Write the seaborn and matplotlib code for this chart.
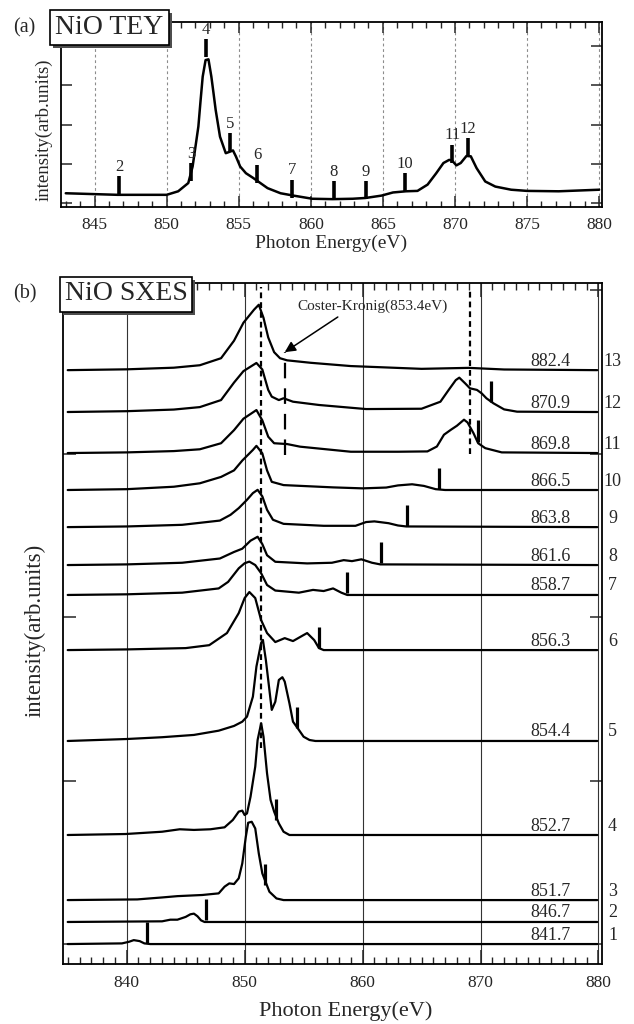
import numpy as np
import pandas as pd
import matplotlib
matplotlib.use('Agg')
import matplotlib.pyplot as plt
import matplotlib.patheffects as pe
from matplotlib.ticker import MultipleLocator
import seaborn as sns

sns.set_style('ticks')
plt.rcParams['font.family'] = ['Liberation Serif', 'DejaVu Serif']

# ---------------- (a) NiO TEY ----------------
tey_energy = [843.0, 846.6, 850.0, 850.8, 851.5, 851.8, 852.2, 852.35, 852.5, 852.7,
              852.9, 853.1, 853.25, 853.4, 853.7, 854.1, 854.4, 854.6, 854.8, 855.1,
              855.5, 856.0, 856.5, 857.0, 857.9, 858.8, 860.1, 861.5, 862.9, 863.8,
              864.9, 865.7, 866.6, 867.4, 868.1, 868.7, 869.2, 869.6, 869.8, 870.1,
              870.4, 870.8, 871.1, 871.5, 872.1, 872.8, 873.9, 875.0, 877.2, 880.0]
tey_intensity = [0.25, 0.21, 0.21, 0.30, 0.51, 0.93, 1.95, 2.60, 3.22, 3.64,
                 3.66, 3.22, 2.80, 2.37, 1.69, 1.27, 1.31, 1.34, 1.19, 0.93,
                 0.76, 0.64, 0.51, 0.38, 0.25, 0.19, 0.11, 0.10, 0.11, 0.13,
                 0.19, 0.27, 0.30, 0.31, 0.47, 0.76, 1.02, 1.10, 1.08, 0.96,
                 1.02, 1.20, 1.19, 0.89, 0.55, 0.42, 0.34, 0.31, 0.30, 0.34]
tey_mark_energy = [846.7, 851.7, 852.7, 854.4, 856.3, 858.7, 861.6, 863.8, 866.5, 869.8, 870.9]
tey_mark_label = ['2', '3', '4', '5', '6', '7', '8', '9', '10', '11', '12']
tey_mark_base = [0.21, 0.55, 3.71, 1.31, 0.51, 0.13, 0.08, 0.10, 0.30, 1.02, 1.19]

# ---------------- (b) NiO SXES ----------------
exc_label = ['841.7', '846.7', '851.7', '852.7', '854.4', '856.3', '858.7',
             '861.6', '863.8', '866.5', '869.8', '870.9', '882.4']
exc_energy = [841.7, 846.7, 851.7, 852.7, 854.4, 856.3, 858.7,
              861.6, 863.8, 866.5, 869.8, 870.9, 882.4]
sxes_offset = [0.0, 0.135, 0.269, 0.667, 1.242, 1.798, 2.135,
               2.318, 2.55, 2.777, 3.003, 3.254, 3.51]
sxes_bar_base = [0.004, 0.01, 0.092, 0.092, 0.08, 0.012, 0.01,
                 0.01, 0.004, 0.004, 0.07, 0.06, None]
ck_energy = 853.4

sx01_e = [835.0, 839.6, 840.2, 840.6, 841.1, 841.5, 842.0, 879.9]
sx01_h = [0.0, 0.004, 0.014, 0.024, 0.018, 0.004, 0.0, 0.0]

sx02_e = [835.0, 843.0, 843.7, 844.3, 845.0, 845.4, 845.7, 846.0, 846.3, 846.6, 879.9]
sx02_h = [0.0, 0.004, 0.014, 0.014, 0.031, 0.047, 0.051, 0.035, 0.01, 0.0, 0.0]

sx03_e = [835.0, 840.9, 843.0, 844.3, 846.4, 847.8, 848.3, 848.7, 849.1, 849.5,
          849.8, 850.1, 850.3, 850.6, 850.9, 851.2, 851.5, 852.1, 852.7, 853.3, 879.9]
sx03_h = [0.0, 0.004, 0.016, 0.024, 0.031, 0.041, 0.082, 0.102, 0.098, 0.133,
          0.224, 0.387, 0.473, 0.479, 0.438, 0.285, 0.163, 0.051, 0.01, 0.0, 0.0]

sx04_e = [835.0, 839.9, 843.0, 844.5, 845.7, 847.1, 848.3, 849.0, 849.5, 849.8,
          850.0, 850.2, 850.5, 850.9, 851.1, 851.4, 851.6, 851.9, 852.2, 852.5,
          852.9, 853.3, 853.8, 879.9]
sx04_h = [0.0, 0.006, 0.02, 0.035, 0.031, 0.035, 0.047, 0.092, 0.143, 0.149,
          0.122, 0.132, 0.234, 0.418, 0.581, 0.683, 0.601, 0.377, 0.214, 0.143,
          0.071, 0.02, 0.0, 0.0]

sx05_e = [835.0, 840.0, 843.0, 845.7, 847.8, 849.1, 849.8, 850.2, 850.7, 851.0,
          851.4, 851.55, 851.8, 852.1, 852.3, 852.6, 852.9, 853.2, 853.4, 853.8,
          854.1, 854.5, 855.0, 855.5, 856.0, 879.9]
sx05_h = [0.0, 0.012, 0.023, 0.037, 0.063, 0.092, 0.118, 0.149, 0.271, 0.455,
          0.60, 0.618, 0.495, 0.312, 0.19, 0.24, 0.373, 0.39, 0.363, 0.23,
          0.118, 0.078, 0.026, 0.006, 0.0, 0.0]

sx06_e = [835.0, 840.0, 845.0, 847.0, 848.5, 849.5, 850.0, 850.4, 850.9, 851.4,
          851.9, 852.6, 853.4, 854.1, 855.0, 855.3, 855.9, 856.3, 856.7, 879.9]
sx06_h = [0.0, 0.004, 0.012, 0.03, 0.104, 0.226, 0.318, 0.355, 0.318, 0.183,
          0.104, 0.049, 0.073, 0.055, 0.092, 0.104, 0.061, 0.012, 0.0, 0.0]

sx07_e = [835.0, 840.0, 844.7, 847.8, 848.6, 849.5, 850.0, 850.4, 850.9, 851.4,
          851.9, 852.6, 854.6, 855.8, 856.7, 857.5, 858.2, 858.7, 879.9]
sx07_h = [0.0, 0.004, 0.014, 0.04, 0.08, 0.163, 0.194, 0.204, 0.183, 0.133,
          0.061, 0.027, 0.014, 0.031, 0.024, 0.04, 0.014, 0.0, 0.0]

sx08_e = [835.0, 840.0, 844.7, 847.9, 849.1, 849.8, 850.5, 851.1, 851.5, 851.9,
          852.6, 855.3, 857.4, 858.4, 859.1, 859.9, 860.8, 861.5, 879.9]
sx08_h = [0.0, 0.004, 0.014, 0.04, 0.08, 0.10, 0.149, 0.173, 0.128, 0.06,
          0.02, 0.01, 0.014, 0.03, 0.024, 0.035, 0.014, 0.004, 0.0]

sx09_e = [835.0, 840.0, 844.7, 847.9, 848.8, 849.5, 850.2, 850.7, 851.1, 851.5,
          851.9, 852.4, 853.3, 856.7, 859.4, 860.3, 861.0, 862.2, 863.0, 863.7, 879.9]
sx09_h = [0.0, 0.004, 0.014, 0.04, 0.075, 0.116, 0.167, 0.208, 0.228, 0.188,
          0.106, 0.045, 0.02, 0.008, 0.008, 0.031, 0.035, 0.024, 0.01, 0.004, 0.0]

sx10_e = [835.0, 840.0, 844.0, 846.2, 848.0, 849.1, 849.8, 850.7, 851.0, 851.5,
          851.9, 852.3, 853.3, 857.5, 860.0, 862.0, 863.0, 864.2, 865.2, 866.2, 867.0, 879.9]
sx10_h = [0.0, 0.005, 0.02, 0.041, 0.08, 0.12, 0.18, 0.245, 0.27, 0.224,
          0.12, 0.05, 0.03, 0.016, 0.01, 0.015, 0.028, 0.035, 0.025, 0.005, 0.0, 0.0]

sx11_e = [835.0, 840.0, 844.0, 846.2, 848.0, 849.1, 849.9, 851.0, 851.5, 852.0,
          852.5, 853.6, 854.7, 859.0, 863.0, 865.5, 866.3, 866.9, 867.5, 868.0,
          868.6, 868.9, 869.4, 869.8, 870.4, 871.8, 879.9]
sx11_h = [0.0, 0.004, 0.012, 0.023, 0.06, 0.14, 0.21, 0.263, 0.20, 0.10,
          0.06, 0.055, 0.039, 0.008, 0.008, 0.01, 0.04, 0.112, 0.143, 0.167,
          0.204, 0.187, 0.122, 0.06, 0.03, 0.004, 0.0]

sx12_e = [835.0, 840.0, 844.0, 846.2, 848.0, 849.1, 849.9, 851.0, 851.5, 852.0,
          852.3, 852.9, 853.3, 854.1, 856.3, 860.3, 865.0, 866.6, 867.3, 867.9,
          868.2, 868.7, 869.1, 869.7, 870.1, 870.5, 871.1, 872.0, 873.1, 879.9]
sx12_h = [0.0, 0.005, 0.015, 0.03, 0.073, 0.18, 0.25, 0.30, 0.26, 0.135,
          0.094, 0.073, 0.084, 0.063, 0.043, 0.018, 0.02, 0.063, 0.135, 0.195,
          0.21, 0.175, 0.145, 0.135, 0.114, 0.084, 0.053, 0.016, 0.002, 0.0]

sx13_e = [835.0, 840.0, 844.0, 846.2, 848.0, 849.1, 849.9, 850.8, 851.2, 851.6,
          852.0, 852.5, 853.0, 853.6, 855.6, 859.0, 865.0, 869.0, 872.0, 879.9]
sx13_h = [0.0, 0.005, 0.015, 0.03, 0.073, 0.18, 0.29, 0.37, 0.40, 0.32,
          0.20, 0.11, 0.073, 0.06, 0.045, 0.025, 0.008, 0.014, 0.004, 0.0]

sxes_e = [sx01_e, sx02_e, sx03_e, sx04_e, sx05_e, sx06_e, sx07_e,
          sx08_e, sx09_e, sx10_e, sx11_e, sx12_e, sx13_e]
sxes_h = [sx01_h, sx02_h, sx03_h, sx04_h, sx05_h, sx06_h, sx07_h,
          sx08_h, sx09_h, sx10_h, sx11_h, sx12_h, sx13_h]

W, H = 634, 1024


def fpos(x, y):
    # pixel position -> figure fraction
    return x / W, 1 - y / H


fig = plt.figure(figsize=(W / 100, H / 100), dpi=100)
axa = fig.add_axes([61 / W, 1 - 207 / H, 541 / W, 185 / H])
axb = fig.add_axes([63 / W, 1 - 964 / H, 539 / W, 681 / H])

# ---- panel (a)
for xg in range(845, 885, 5):
    axa.axvline(xg, color='0.55', lw=0.8, ls=(0, (2.5, 2.5)), zorder=0)
sns.lineplot(x=np.array(tey_energy), y=np.array(tey_intensity), ax=axa,
             color='k', lw=1.8, sort=False, estimator=None)
bar_len_a = 0.47
tops = np.array(tey_mark_base) + bar_len_a
axa.vlines(tey_mark_energy, tey_mark_base, tops, color='k', lw=2.6)
for e, t, lab in zip(tey_mark_energy, tops, tey_mark_label):
    axa.text(e, t + 0.03, lab, ha='center', va='bottom', fontsize=12)

axa.set_xlim(842.67, 880.2)
axa.set_ylim(-0.1, 4.61)
axa.xaxis.set_major_locator(MultipleLocator(5))
axa.xaxis.set_minor_locator(MultipleLocator(1))
axa.set_yticks([0, 1, 2, 3, 4])
axa.tick_params(axis='x', which='major', direction='in', length=8, width=1.1,
                top=True, labelsize=12.5, pad=7)
axa.tick_params(axis='x', which='minor', direction='in', length=4, width=1.0, top=True)
axa.tick_params(axis='y', which='major', direction='in', length=8, width=1.1,
                right=True, labelleft=False)
axa.set_xlabel('Photon Energy(eV)', fontsize=14)
axa.xaxis.set_label_coords(0.5, -0.15)
axa.set_ylabel('intensity(arb.units)', fontsize=13.5)
axa.yaxis.set_label_coords(-0.015, 0.42)
for sp in axa.spines.values():
    sp.set_linewidth(1.3)
    sp.set_color('k')

# ---- panel (b)
for xg in range(840, 890, 10):
    axb.axvline(xg, color='0.2', lw=0.8, zorder=0)

frames = []
for k in range(len(sxes_e)):
    frames.append(pd.DataFrame({'energy': sxes_e[k],
                                'intensity': np.array(sxes_h[k]) + sxes_offset[k],
                                'spectrum': k + 1}))
df_sxes = pd.concat(frames, ignore_index=True)
sns.lineplot(data=df_sxes, x='energy', y='intensity', units='spectrum',
             estimator=None, sort=False, color='k', lw=1.6, ax=axb, legend=False)

bar_len_b = 0.13
for e, off, base in zip(exc_energy, sxes_offset, sxes_bar_base):
    if base is None:
        continue
    axb.vlines(e, off + base, off + base + bar_len_b, color='k', lw=2.3)

for off, lab, n in zip(sxes_offset, exc_label, range(1, 14)):
    axb.text(875.9, off + 0.055, lab, ha='center', va='center', fontsize=13)
    axb.text(881.2, off + 0.055, str(n), ha='center', va='center', fontsize=13,
             clip_on=False)

# reference lines
axb.plot([851.4, 851.4], [1.2, 4.02], color='k', lw=1.6, ls=(0, (2.6, 1.8)))
axb.plot([869.1, 869.1], [3.0, 4.01], color='k', lw=1.6, ls=(0, (2.6, 1.8)))
axb.plot([ck_energy, ck_energy], [2.99, 3.62], color='k', lw=1.6, ls=(0, (7, 4.5)))
axb.annotate('', xy=(ck_energy, 3.62), xytext=(857.9, 3.835),
             arrowprops=dict(arrowstyle='-|>', color='k', lw=1.1,
                             mutation_scale=16, shrinkA=0, shrinkB=0))
axb.text(860.8, 3.90, 'Coster-Kronig(853.4eV)', ha='center', va='center', fontsize=11)

axb.set_xlim(834.6, 880.3)
axb.set_ylim(-0.122, 4.043)
axb.xaxis.set_major_locator(MultipleLocator(10))
axb.xaxis.set_minor_locator(MultipleLocator(1))
axb.set_yticks([0, 1, 2, 3, 4])
axb.tick_params(axis='x', which='major', direction='in', length=10, width=1.1,
                top=True, labelsize=12.5, pad=8)
axb.tick_params(axis='x', which='minor', direction='in', length=5, width=1.0, top=True)
axb.tick_params(axis='y', which='major', direction='in', length=9, width=1.1,
                right=True, labelleft=False)
axb.set_xlabel('Photon Energy(eV)', fontsize=16)
axb.xaxis.set_label_coords(0.525, -0.054)
axb.set_ylabel('intensity(arb.units)', fontsize=16.5)
axb.yaxis.set_label_coords(-0.033, 0.49)
for sp in axb.spines.values():
    sp.set_linewidth(1.3)
    sp.set_color('k')


# ---- panel tags and boxed titles (white box with a drop shadow)
def boxed(x, y, s):
    t = fig.text(*fpos(x, y), s, fontsize=20, ha='center', va='center',
                 bbox=dict(boxstyle='square,pad=0.18', fc='white', ec='black', lw=1.2))
    t.get_bbox_patch().set_path_effects([
        pe.SimplePatchShadow(offset=(2.2, -2.2), shadow_rgbFace='0.3', alpha=1.0),
        pe.Normal()])


fig.text(*fpos(24, 28), '(a)', fontsize=14.5, ha='center', va='center')
fig.text(*fpos(25, 294), '(b)', fontsize=14.5, ha='center', va='center')
boxed(109.5, 27, 'NiO TEY')
boxed(126, 294, 'NiO SXES')

fig.savefig('out.png', dpi=100)
